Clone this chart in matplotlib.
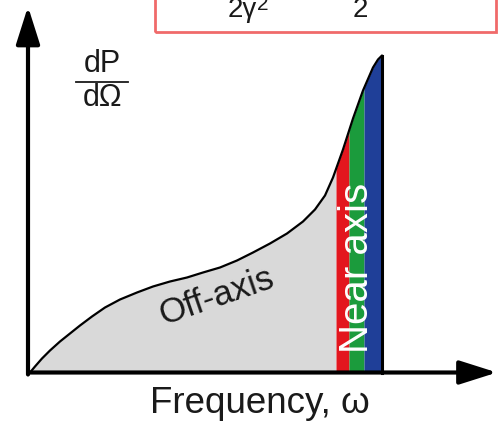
import numpy as np
import matplotlib
matplotlib.use("Agg")
import matplotlib.pyplot as plt
from matplotlib.patches import Rectangle

plt.rcParams['font.family'] = ['Liberation Sans', 'DejaVu Sans']

# Spectrum curve (frequency offset, dP/dOmega) in arbitrary units
freq = [0, 5, 12, 20, 30, 40, 50, 62, 75, 90, 107, 123, 140, 157, 173, 190, 207, 223,
        240, 257, 273, 285, 295, 303, 313, 323, 333, 343, 348, 352]
power = [0, 6, 14, 22, 31, 39, 47, 56, 65, 73, 80, 86, 91, 95, 100, 105, 112, 120,
         129, 139, 151, 163, 177, 195, 223, 254, 282, 305, 313, 317]

# Near-axis colour bands (frequency edges)
band_edges = [306, 319, 334, 352]
band_colors = ['#e3161e', '#1b9b3c', '#1f3f98']

fig = plt.figure(figsize=(5.03, 4.26), dpi=100)
ax = fig.add_axes([0, 0, 1, 1])
ax.set_xlim(-30, 473)
ax.set_ylim(-53.5, 372.5)
ax.axis('off')

f = np.array(freq, float)
p = np.array(power, float)

# off-axis grey fill
xs0 = np.concatenate([f[f < band_edges[0]], [band_edges[0]]])
ax.fill_between(xs0, 0, np.interp(xs0, f, p), color='#d9d9d9', lw=0)
# bands
for i, c in enumerate(band_colors):
    lo, hi = band_edges[i], band_edges[i + 1]
    xs = np.concatenate([[lo], f[(f > lo) & (f < hi)], [hi]])
    ys = np.interp(xs, f, p)
    ax.fill_between(xs, 0, ys, color=c, lw=0)

ax.plot(f, p, color='black', lw=1.6, solid_capstyle='round', solid_joinstyle='round')
ax.plot([f[-1], f[-1]], [0, p[-1]], color='black', lw=2.2)

# axes arrows
astyle = '-|>,head_length=0.82,head_width=0.26'
ax.annotate('', xy=(467, 0), xytext=(-2, 0),
            arrowprops=dict(arrowstyle=astyle, lw=3, color='black',
                            shrinkA=0, shrinkB=0, mutation_scale=28))
ax.annotate('', xy=(-2, 366), xytext=(-2, -2),
            arrowprops=dict(arrowstyle=astyle, lw=3, color='black',
                            shrinkA=0, shrinkB=0, mutation_scale=28))

# labels
ax.text(230, -31, 'Frequency, ω', fontsize=26.5, ha='center', va='center', color='#1a1a1a')
ax.text(187, 75.5, 'Off-axis', fontsize=25, rotation=19, ha='center', va='center', color='#1a1a1a')
ax.text(327.5, 104.5, 'Near axis', fontsize=29, rotation=90, ha='center', va='center', color='white')
ax.text(72, 309, 'dP', fontsize=22, ha='center', va='center', color='#1a1a1a')
ax.plot([46, 98], [290.5, 290.5], color='#1a1a1a', lw=1.3)
ax.text(73, 274, 'dΩ', fontsize=22, ha='center', va='center', color='#1a1a1a')

# top formula box (cut off)
ax.add_patch(Rectangle((125, 340.5), 341, 40, fill=False, edgecolor='#f06a6a', lw=2))
ax.text(198, 355.5, '2γ', fontsize=20, ha='left', va='baseline', color='#1a1a1a')
ax.text(227, 362, '2', fontsize=15, ha='left', va='baseline', color='#1a1a1a')
ax.text(330, 355.5, '2', fontsize=20, ha='center', va='baseline', color='#1a1a1a')

fig.savefig('out.png', dpi=100)
